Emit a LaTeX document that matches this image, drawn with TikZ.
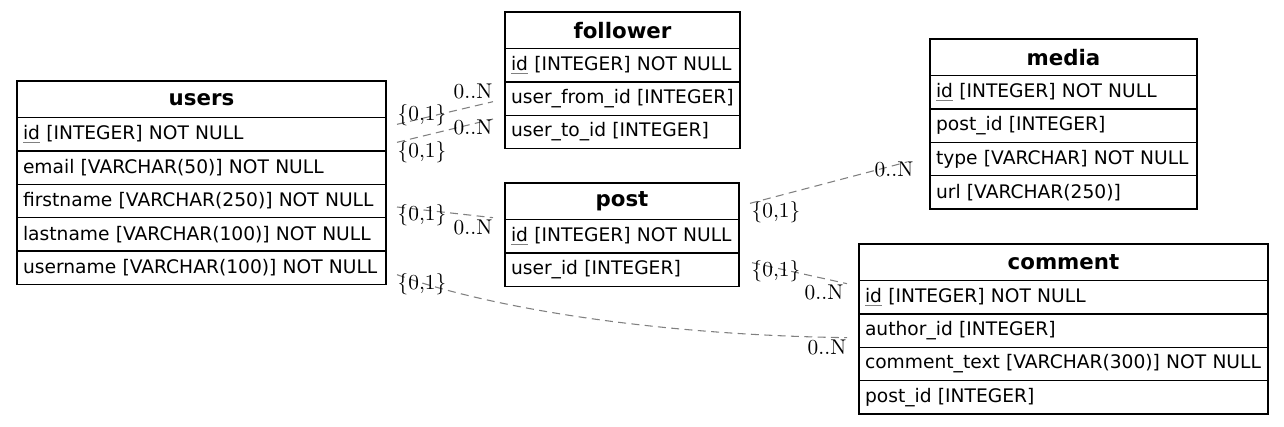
\documentclass[tikz,border=0pt]{standalone}
\usepackage{fontspec}
\setsansfont{DejaVu Sans}
\newfontfamily\cardfont{lmroman10-regular.otf}
\usepackage{tikz}
\usetikzlibrary{positioning, calc}
\newcommand\pkey[1]{\textcolor{gray}{\underline{\textcolor{black}{#1}}}}

\begin{document}
\begin{tikzpicture}[
    x=0.75pt, y=-0.75pt,
    hdr/.style={draw, line width=1pt, outer sep=0pt, inner sep=0pt, minimum height=27.5pt, anchor=north west, font=\sffamily\bfseries\fontsize{16}{19}\selectfont},
    row/.style={draw, line width=1pt, outer sep=0pt, inner xsep=4.5pt, inner ysep=0pt, minimum height=25pt, align=left, font=\sffamily\fontsize{14}{17}\selectfont},
    rel/.style={draw=gray, dash pattern=on 6pt off 4pt, line width=0.8pt},
    card/.style={inner sep=0pt, font=\cardfont\fontsize{16}{18}\selectfont}
]
\useasboundingbox (0,0) rectangle (1284,426);

% users
\node[hdr, minimum width=276.75pt] (users) at (17,81) {users};
\node[row, text width=267.75pt, below=0pt of users] (uid) {\pkey{id} [INTEGER] NOT NULL};
\node[row, text width=267.75pt, below=0pt of uid] (uemail) {email [VARCHAR(50)] NOT NULL};
\node[row, text width=267.75pt, below=0pt of uemail] (ufirst) {firstname [VARCHAR(250)] NOT NULL};
\node[row, text width=267.75pt, below=0pt of ufirst] (ulast) {lastname [VARCHAR(100)] NOT NULL};
\node[row, text width=267.75pt, below=0pt of ulast] (uuser) {username [VARCHAR(100)] NOT NULL};

% follower
\node[hdr, minimum width=176.25pt] (follower) at (505,12) {follower};
\node[row, text width=167.25pt, below=0pt of follower] (fid) {\pkey{id} [INTEGER] NOT NULL};
\node[row, text width=167.25pt, below=0pt of fid] (ffrom) {user\_from\_id [INTEGER]};
\node[row, text width=167.25pt, below=0pt of ffrom] (fto) {user\_to\_id [INTEGER]};

% post
\node[hdr, minimum width=175.5pt] (post) at (505,183) {post};
\node[row, text width=166.5pt, below=0pt of post] (pid) {\pkey{id} [INTEGER] NOT NULL};
\node[row, text width=166.5pt, below=0pt of pid] (puser) {user\_id [INTEGER]};

% media
\node[hdr, minimum width=200.25pt] (media) at (930,39) {media};
\node[row, text width=191.25pt, below=0pt of media] (mid) {\pkey{id} [INTEGER] NOT NULL};
\node[row, text width=191.25pt, below=0pt of mid] (mpost) {post\_id [INTEGER]};
\node[row, text width=191.25pt, below=0pt of mpost] (mtype) {type [VARCHAR] NOT NULL};
\node[row, text width=191.25pt, below=0pt of mtype] (murl) {url [VARCHAR(250)]};

% comment
\node[hdr, minimum width=306.75pt] (comment) at (859,244) {comment};
\node[row, text width=297.75pt, below=0pt of comment] (cid) {\pkey{id} [INTEGER] NOT NULL};
\node[row, text width=297.75pt, below=0pt of cid] (cauthor) {author\_id [INTEGER]};
\node[row, text width=297.75pt, below=0pt of cauthor] (ctext) {comment\_text [VARCHAR(300)] NOT NULL};
\node[row, text width=297.75pt, below=0pt of ctext] (cpost) {post\_id [INTEGER]};

% relations
\draw[rel] ($(uid.east)+(11,-10)$) -- ($(ffrom.west)+(-12,3)$);
\draw[rel] ($(uid.east)+(11,8)$) -- ($(fto.west)+(-12,-13)$);
\draw[rel] ($(ufirst.east)+(11,6)$) -- ($(pid.north west)+(-12,-2)$);
\draw[rel] ($(uuser.east)+(11,7)$) .. controls +(83,30) and +(-207,-3) .. ($(cauthor.west)+(-12,7)$);
\draw[rel] ($(post.east)+(11,2)$) -- ($(mtype.west)+(-23,3)$);
\draw[rel] ($(puser.east)+(13,-7)$) -- ($(cid.north west)+(-12,3)$);

% cardinalities
\node[card] (c1a) at (422,115) {\{0,1\}};
\node[card] (c1b) at (473,91) {0..N};
\node[card] (c2a) at (422,152) {\{0,1\}};
\node[card] (c2b) at (473,127) {0..N};
\node[card] (c3a) at (422,215) {\{0,1\}};
\node[card] (c3b) at (473,227) {0..N};
\node[card] (c4a) at (422,284) {\{0,1\}};
\node[card] (c4b) at (827,347) {0..N};
\node[card] (c5a) at (776,212) {\{0,1\}};
\node[card] (c5b) at (894,169) {0..N};
\node[card] (c6a) at (776,271) {\{0,1\}};
\node[card] (c6b) at (824,292) {0..N};
\end{tikzpicture}
\end{document}
